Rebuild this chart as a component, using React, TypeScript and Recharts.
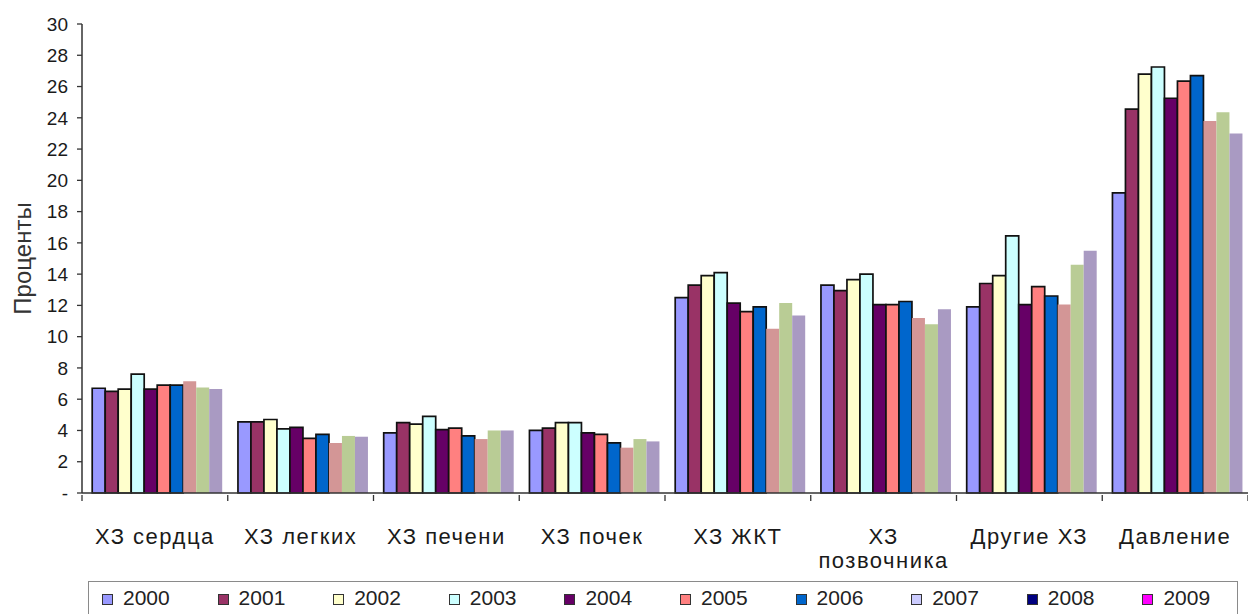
import React from 'react';
import { BarChart, Bar, XAxis, YAxis } from 'recharts';

const CATEGORIES = ['ХЗ сердца', 'ХЗ легких', 'ХЗ печени', 'ХЗ почек', 'ХЗ ЖКТ', 'ХЗ позвочника', 'Другие ХЗ', 'Давление'];
const YEARS = ['2000', '2001', '2002', '2003', '2004', '2005', '2006', '2007', '2008', '2009'];

// values per year, in category order
const Y2000 = [6.7, 4.55, 3.85, 4.0, 12.5, 13.3, 11.9, 19.2];
const Y2001 = [6.5, 4.55, 4.5, 4.15, 13.3, 12.95, 13.4, 24.55];
const Y2002 = [6.65, 4.7, 4.4, 4.5, 13.9, 13.65, 13.9, 26.8];
const Y2003 = [7.6, 4.1, 4.9, 4.5, 14.1, 14.0, 16.45, 27.25];
const Y2004 = [6.65, 4.2, 4.05, 3.85, 12.15, 12.05, 12.05, 25.25];
const Y2005 = [6.9, 3.5, 4.15, 3.75, 11.6, 12.05, 13.2, 26.35];
const Y2006 = [6.9, 3.75, 3.65, 3.2, 11.9, 12.25, 12.6, 26.7];
const Y2007 = [7.15, 3.2, 3.45, 2.9, 10.5, 11.2, 12.05, 23.8];
const Y2008 = [6.75, 3.65, 4.0, 3.45, 12.15, 10.8, 14.6, 24.35];
const Y2009 = [6.65, 3.6, 4.0, 3.3, 11.35, 11.75, 15.5, 23.0];
const SERIES = [Y2000, Y2001, Y2002, Y2003, Y2004, Y2005, Y2006, Y2007, Y2008, Y2009];

const Y_TICKS = [0, 2, 4, 6, 8, 10, 12, 14, 16, 18, 20, 22, 24, 26, 28, 30];

// bar fills (last three years are drawn in faded colours without outline)
const BAR_COLORS = ['#9999FF', '#993366', '#FFFFCC', '#CCFFFF', '#660066', '#FF8080', '#0066CC', '#D39696', '#B9CC95', '#A99AC2'];
const OUTLINED = [true, true, true, true, true, true, true, false, false, false];
// legend swatches as in the original
const LEGEND_COLORS = ['#9999FF', '#993366', '#FFFFCC', '#CCFFFF', '#660066', '#FF8080', '#0066CC', '#CCCCFF', '#000080', '#FF00FF'];

const FONT = 'Arial, "Liberation Sans", sans-serif';

const data = CATEGORIES.map((name, i) => {
  const row: Record<string, string | number> = { name };
  YEARS.forEach((y, s) => { row[y] = SERIES[s][i]; });
  return row;
});

// label + Excel-style tick marks on the category boundaries
const CategoryTick = (props: any) => {
  const { x, y, payload, index, visibleTicksCount } = props;
  const half = payload.offset || 0;
  const top = y - 8; // axis line position (tick label y sits below it)
  const label = String(payload.value);
  const lines = label.length > 11 ? label.split(' ') : [label];
  return (
    <g>
      <line x1={x - half} x2={x - half} y1={top} y2={top + 6} stroke="#333" strokeWidth={1.3} />
      {index === visibleTicksCount - 1 && (
        <line x1={x + half} x2={x + half} y1={top} y2={top + 6} stroke="#333" strokeWidth={1.3} />
      )}
      <text
        x={x}
        y={y + 41}
        textAnchor="middle"
        fill="#1a1a1a"
        style={{ fontFamily: FONT, fontSize: 22, letterSpacing: 1.5 }}
      >
        {lines.map((l, i) => (
          <tspan key={i} x={x} dy={i === 0 ? 0 : 24}>{l}</tspan>
        ))}
      </text>
    </g>
  );
};

export default function App() {
  return (
    <div style={{ position: 'absolute', left: 0, top: 0, width: 1248, height: 614, background: '#fff', fontFamily: FONT }}>
      <BarChart
        width={1248}
        height={614}
        data={data}
        margin={{ top: 24, right: 0, bottom: 51, left: 0 }}
        barCategoryGap="7%"
        barGap={0}
      >
        <XAxis
          dataKey="name"
          height={70}
          interval={0}
          tickLine={false}
          tickSize={8}
          axisLine={{ stroke: '#333', strokeWidth: 1.5 }}
          tick={<CategoryTick />}
        />
        <YAxis
          width={82}
          domain={[0, 30]}
          ticks={Y_TICKS}
          interval={0}
          tickSize={5}
          tickMargin={9}
          tickFormatter={(v: number) => (v === 0 ? '-' : String(v))}
          tick={{ fill: '#1a1a1a', fontSize: 19, fontFamily: FONT }}
          axisLine={{ stroke: '#333', strokeWidth: 1.5 }}
          tickLine={{ stroke: '#333', strokeWidth: 1.3 }}
          label={{
            value: 'Проценты',
            angle: -90,
            position: 'center',
            dx: -19,
            style: { fontSize: 24, fontFamily: FONT, fill: '#333' },
          }}
        />
        {YEARS.map((y, s) => (
          <Bar
            key={y}
            dataKey={y}
            fill={BAR_COLORS[s]}
            stroke={OUTLINED[s] ? '#111' : 'none'}
            strokeWidth={OUTLINED[s] ? 1.7 : 0}
            isAnimationActive={false}
          />
        ))}
      </BarChart>

      {/* legend box, bottom edge runs off the picture in the original */}
      <div
        style={{
          position: 'absolute',
          left: 88,
          top: 581,
          width: 1150,
          height: 40,
          border: '1.5px solid #8a8a8a',
          boxSizing: 'border-box',
        }}
      >
        {YEARS.map((y, s) => (
          <div
            key={y}
            style={{
              position: 'absolute',
              left: 13 + s * 115.6,
              top: 4,
              display: 'flex',
              alignItems: 'center',
              fontSize: 21,
              color: '#222',
              lineHeight: '24px',
            }}
          >
            <span
              style={{
                display: 'inline-block',
                width: 9,
                height: 9,
                background: LEGEND_COLORS[s],
                border: '1px solid #333',
                marginRight: 10,
                marginTop: 2,
              }}
            />
            {y}
          </div>
        ))}
      </div>
    </div>
  );
}
